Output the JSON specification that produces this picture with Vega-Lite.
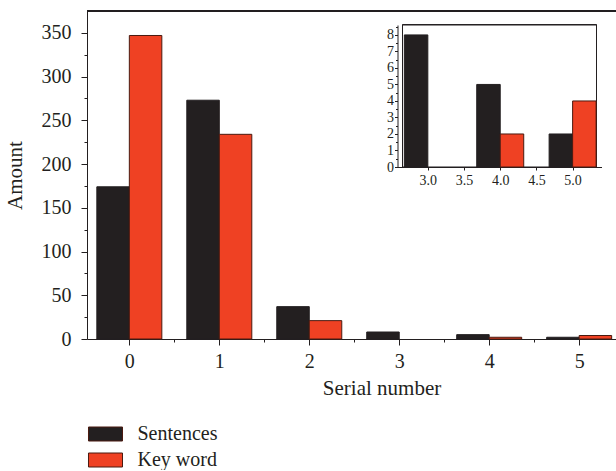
{
  "$schema": "https://vega.github.io/schema/vega-lite/v6.json",
  "padding": {"left": 4, "top": 10, "right": 0, "bottom": 0},
  "background": "white",
  "width": 530,
  "height": 328,
  "config": {
    "view": {"stroke": null},
    "font": "Liberation Serif",
    "axis": {"labelFont": "Liberation Serif", "titleFont": "Liberation Serif", "labelColor": "#231f20", "titleColor": "#231f20", "domainColor": "#231f20", "tickColor": "#231f20", "grid": false, "titleFontWeight": "normal"},
    "legend": {"labelFont": "Liberation Serif"}
  },
  "data": {
    "values": [
      {"serial": 0, "series": "Sentences", "amount": 174},
      {"serial": 1, "series": "Sentences", "amount": 273},
      {"serial": 2, "series": "Sentences", "amount": 37},
      {"serial": 3, "series": "Sentences", "amount": 8},
      {"serial": 4, "series": "Sentences", "amount": 5},
      {"serial": 5, "series": "Sentences", "amount": 2},
      {"serial": 0, "series": "Key word", "amount": 347},
      {"serial": 1, "series": "Key word", "amount": 234},
      {"serial": 2, "series": "Key word", "amount": 21},
      {"serial": 3, "series": "Key word", "amount": 0},
      {"serial": 4, "series": "Key word", "amount": 2},
      {"serial": 5, "series": "Key word", "amount": 4}
    ]
  },
  "layer": [
    {
      "layer": [
        {
          "transform": [{"filter": "datum.series === 'Sentences' && datum.amount > 0"}],
          "mark": {"type": "bar", "width": 32.5, "xOffset": -16.25, "stroke": "#231f20", "strokeWidth": 1},
          "encoding": {
            "x": {"field": "serial", "type": "quantitative", "scale": {"domain": [-0.415, 5.365], "nice": false, "zero": false},
              "axis": {"orient": "bottom", "values": [0, 1, 2, 3, 4, 5], "tickSize": 6, "labelFontSize": 20, "labelPadding": 6, "title": "Serial number", "titleFontSize": 21, "titleX": 294.5, "titlePadding": 6, "domainWidth": 1}},
            "y": {"field": "amount", "type": "quantitative", "scale": {"domain": [0, 375], "nice": false},
              "axis": {"orient": "left", "values": [0, 50, 100, 150, 200, 250, 300, 350], "tickSize": 6, "labelFontSize": 20, "labelPadding": 10, "title": "Amount", "titleFontSize": 21, "titlePadding": 15.5, "domainWidth": 1}},
            "color": {"field": "series", "type": "nominal",
              "scale": {"domain": ["Sentences", "Key word"], "range": ["#231f20", "#ef4123"]},
              "legend": {"title": null, "orient": "none", "legendX": 8.5, "legendY": 413, "direction": "vertical",
                "symbolType": "M-2.43,-1H2.43V1H-2.43Z", "symbolSize": 196, "symbolStrokeColor": "#231f20", "symbolStrokeWidth": 1,
                "labelFontSize": 20, "labelOffset": 22, "rowPadding": 6, "labelColor": "#231f20"}}
          }
        },
        {
          "transform": [{"filter": "datum.series === 'Key word' && datum.amount > 0"}],
          "mark": {"type": "bar", "width": 32.5, "xOffset": 16.25, "stroke": "#4a1a10", "strokeWidth": 1},
          "encoding": {
            "x": {"field": "serial", "type": "quantitative",
              "axis": {"orient": "bottom", "values": [0.5, 1.5, 2.5, 3.5, 4.5], "tickSize": 3, "labels": false, "domain": false, "title": null}},
            "y": {"field": "amount", "type": "quantitative",
              "axis": {"orient": "left", "values": [25, 75, 125, 175, 225, 275, 325], "tickSize": 3, "labels": false, "domain": false, "title": null}},
            "color": {"field": "series", "type": "nominal"}
          }
        },
        {
          "mark": {"type": "rule", "color": "#231f20", "strokeWidth": 1},
          "encoding": {"y": {"datum": 375, "type": "quantitative", "axis": null}}
        }
      ],
      "resolve": {"axis": {"x": "independent", "y": "independent"}}
    },
    {
      "transform": [{"filter": "datum.serial >= 3"}],
      "layer": [
        {
          "mark": {"type": "rect", "fill": "white", "stroke": "#231f20", "strokeWidth": 1},
          "encoding": {
            "x": {"datum": 2.65, "type": "quantitative", "scale": {"domain": [2.65, 5.33], "range": [310.5, 514.5], "nice": false, "zero": false},
              "axis": {"orient": "bottom", "offset": -172, "values": [3, 3.5, 4, 4.5, 5], "format": ".1f", "tickSize": 3, "labelFontSize": 14, "labelPadding": 3, "title": null, "domainWidth": 1}},
            "x2": {"datum": 5.33},
            "y": {"datum": 0, "type": "quantitative", "scale": {"domain": [0, 8.6], "range": [156, 14], "nice": false, "zero": false},
              "axis": {"orient": "left", "offset": -310.5, "values": [0, 1, 2, 3, 4, 5, 6, 7, 8], "tickSize": 3, "labelFontSize": 14, "labelPadding": 1, "title": null, "domainWidth": 1}},
            "y2": {"datum": 8.6}
          }
        },
        {
          "transform": [{"filter": "datum.series === 'Sentences' && datum.amount > 0"}],
          "mark": {"type": "bar", "width": 23.5, "xOffset": -11.75, "fill": "#231f20", "stroke": "#231f20", "strokeWidth": 1},
          "encoding": {
            "x": {"field": "serial", "type": "quantitative", "axis": null},
            "y": {"field": "amount", "type": "quantitative",
              "axis": {"orient": "left", "offset": -310.5, "values": [0.5, 1.5, 2.5, 3.5, 4.5, 5.5, 6.5, 7.5, 8.5], "tickSize": 2, "labels": false, "domain": false, "title": null}}
          }
        },
        {
          "transform": [{"filter": "datum.series === 'Key word' && datum.amount > 0"}],
          "mark": {"type": "bar", "width": 23.5, "xOffset": 11.75, "fill": "#ef4123", "stroke": "#4a1a10", "strokeWidth": 1},
          "encoding": {
            "x": {"field": "serial", "type": "quantitative", "axis": null},
            "y": {"field": "amount", "type": "quantitative", "axis": null}
          }
        }
      ],
      "resolve": {"axis": {"x": "independent", "y": "independent"}}
    }
  ],
  "resolve": {"scale": {"x": "independent", "y": "independent"}, "axis": {"x": "independent", "y": "independent"}}
}
